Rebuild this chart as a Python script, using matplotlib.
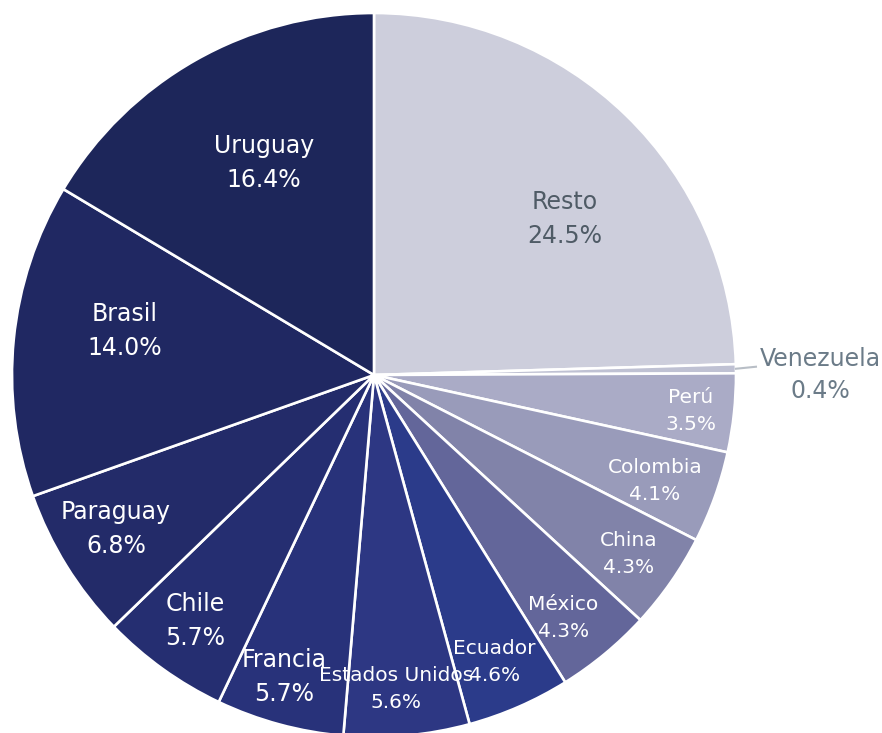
import numpy as np
import matplotlib
matplotlib.use('Agg')
import matplotlib.pyplot as plt

##############################
# Data
paises = ['Resto', 'Venezuela', 'Perú', 'Colombia', 'China', 'México', 'Ecuador',
          'Estados Unidos', 'Francia', 'Chile', 'Paraguay', 'Brasil', 'Uruguay']
valores = [24.5, 0.4, 3.5, 4.1, 4.3, 4.3, 4.6, 5.6, 5.7, 5.7, 6.8, 14.0, 16.4]

colores = ['#CDCEDC', '#BFC1D3', '#AAABC6', '#999BBA', '#8183A9', '#63669A', '#2B3B8A',
           '#2D3783', '#28327A', '#252E71', '#232B69', '#202862', '#1D265A']

# label placement: fraction of radius, angle shift (deg), font size
lab_r = [0.68, None, 0.88, 0.83, 0.86, 0.85, 0.86, 0.87, 0.87, 0.84, 0.83, 0.70, 0.66]
lab_da = [-6.5, 0, -0.4, -1.0, -0.2, -1.7, -0.8, -1.2, -1.5, -0.3, -1.0, -4.4, -2.1]
lab_fs = [17, 17, 14.5, 14.5, 14.5, 14.5, 14.5, 14.5, 17, 17, 17, 17, 17]

W, H = 882, 733
CX, CY, R = 374, H - 375, 362

fig = plt.figure(figsize=(W/100, H/100), dpi=100)
ax = fig.add_axes([0, 0, 1, 1])

wedges, _ = ax.pie(valores, colors=colores, startangle=90, counterclock=False,
                   center=(CX, CY), radius=R,
                   wedgeprops=dict(edgecolor='white', linewidth=1.9))

for i, w in enumerate(wedges):
    ang = np.deg2rad((w.theta1 + w.theta2)/2)
    txt = '%s\n%.1f%%' % (paises[i], valores[i])
    if paises[i] == 'Venezuela':
        x0, y0 = CX + R*np.cos(ang), CY + R*np.sin(ang)
        ax.plot([x0, x0 + 20], [y0, y0 + 2], color='#B8BEC6', lw=1.5)
        ax.text(820, H - 375, txt, ha='center', va='center', fontsize=lab_fs[i],
                color='#6B7B88', linespacing=1.4)
        continue
    ang = ang + np.deg2rad(lab_da[i])
    x = CX + lab_r[i]*R*np.cos(ang)
    y = CY + lab_r[i]*R*np.sin(ang)
    col = '#4F5B66' if paises[i] == 'Resto' else 'white'
    ls = 1.52 if lab_fs[i] > 15 else 1.55
    ax.text(x, y, txt, ha='center', va='center', fontsize=lab_fs[i],
            color=col, linespacing=ls)

ax.set_xlim(0, W)
ax.set_ylim(0, H)
ax.axis('off')

plt.savefig('out.png', dpi=100)
